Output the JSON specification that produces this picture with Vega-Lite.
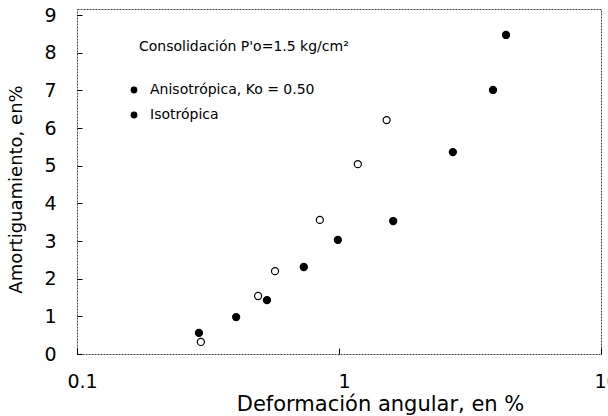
{
  "$schema": "https://vega.github.io/schema/vega-lite/v6.json",
  "width": 524,
  "height": 345,
  "autosize": {"type": "none"},
  "padding": {"left": 77, "top": 9, "right": 7, "bottom": 62},
  "background": "white",
  "config": {
    "font": "DejaVu Sans",
    "view": {"stroke": "#444", "strokeWidth": 1, "strokeDash": [2, 1]},
    "axis": {
      "domain": false,
      "grid": false,
      "labelFont": "DejaVu Sans",
      "titleFont": "DejaVu Sans",
      "labelColor": "black",
      "titleColor": "black",
      "titleFontWeight": "normal",
      "tickColor": "black"
    }
  },
  "data": {
    "values": [
      {"serie": "Anisotrópica, Ko = 0.50", "deformacion": 0.292, "amortiguamiento": 0.56},
      {"serie": "Anisotrópica, Ko = 0.50", "deformacion": 0.405, "amortiguamiento": 0.98},
      {"serie": "Anisotrópica, Ko = 0.50", "deformacion": 0.531, "amortiguamiento": 1.43},
      {"serie": "Anisotrópica, Ko = 0.50", "deformacion": 0.734, "amortiguamiento": 2.31},
      {"serie": "Anisotrópica, Ko = 0.50", "deformacion": 0.99, "amortiguamiento": 3.03},
      {"serie": "Anisotrópica, Ko = 0.50", "deformacion": 1.61, "amortiguamiento": 3.53},
      {"serie": "Anisotrópica, Ko = 0.50", "deformacion": 2.72, "amortiguamiento": 5.36},
      {"serie": "Anisotrópica, Ko = 0.50", "deformacion": 3.87, "amortiguamiento": 7.01},
      {"serie": "Anisotrópica, Ko = 0.50", "deformacion": 4.34, "amortiguamiento": 8.47},
      {"serie": "Isotrópica", "deformacion": 0.297, "amortiguamiento": 0.32},
      {"serie": "Isotrópica", "deformacion": 0.491, "amortiguamiento": 1.54},
      {"serie": "Isotrópica", "deformacion": 0.57, "amortiguamiento": 2.2},
      {"serie": "Isotrópica", "deformacion": 0.845, "amortiguamiento": 3.56},
      {"serie": "Isotrópica", "deformacion": 1.18, "amortiguamiento": 5.04},
      {"serie": "Isotrópica", "deformacion": 1.52, "amortiguamiento": 6.21}
    ]
  },
  "encoding": {
    "x": {
      "field": "deformacion",
      "type": "quantitative",
      "scale": {"type": "log", "domain": [0.1, 10]},
      "axis": {
        "values": [0.1, 1, 10],
        "format": "~g",
        "labelFontSize": 19,
        "labelPadding": 24,
        "labelOffset": 5,
        "labelFlush": false,
        "ticks": true,
        "tickSize": -6,
        "title": "Deformación angular, en %",
        "titleFontSize": 21,
        "titleX": 303,
        "titleY": 50,
        "titleBaseline": "middle",
        "titleAlign": "center"
      }
    },
    "y": {
      "field": "amortiguamiento",
      "type": "quantitative",
      "scale": {"domain": [0, 9.16], "nice": false},
      "axis": {
        "values": [0, 1, 2, 3, 4, 5, 6, 7, 8, 9],
        "labelFontSize": 19,
        "labelPadding": 26,
        "ticks": true,
        "tickSize": -5,
        "title": "Amortiguamiento, en%",
        "titleFontSize": 18,
        "titleX": -61,
        "titleY": 180,
        "titleAngle": -90,
        "titleBaseline": "middle",
        "titleAlign": "center"
      }
    },
    "shape": {
      "field": "serie",
      "type": "nominal",
      "scale": {"domain": ["Anisotrópica, Ko = 0.50", "Isotrópica"], "range": ["circle", "circle"]},
      "legend": {
        "orient": "none",
        "legendX": 62,
        "legendY": 31,
        "title": "Consolidación P'o=1.5 kg/cm²",
        "titleFontSize": 14,
        "titleFontWeight": "normal",
        "titleColor": "black",
        "titleLimit": 400,
        "titlePadding": 29,
        "labelFontSize": 14,
        "labelColor": "black",
        "labelLimit": 300,
        "labelOffset": 9,
        "rowPadding": 11,
        "symbolSize": 46,
        "symbolOffset": -12,
        "symbolFillColor": "black",
        "symbolStrokeColor": "black"
      }
    }
  },
  "layer": [
    {
      "transform": [{"filter": "datum.serie === 'Anisotrópica, Ko = 0.50'"}],
      "mark": {"type": "point", "filled": true, "size": 50, "fill": "black", "stroke": "black", "strokeWidth": 1.2, "opacity": 1, "fillOpacity": 1}
    },
    {
      "transform": [{"filter": "datum.serie === 'Isotrópica'"}],
      "mark": {"type": "point", "filled": false, "size": 50, "fill": "white", "stroke": "black", "strokeWidth": 1.2, "opacity": 1, "fillOpacity": 1}
    }
  ]
}
